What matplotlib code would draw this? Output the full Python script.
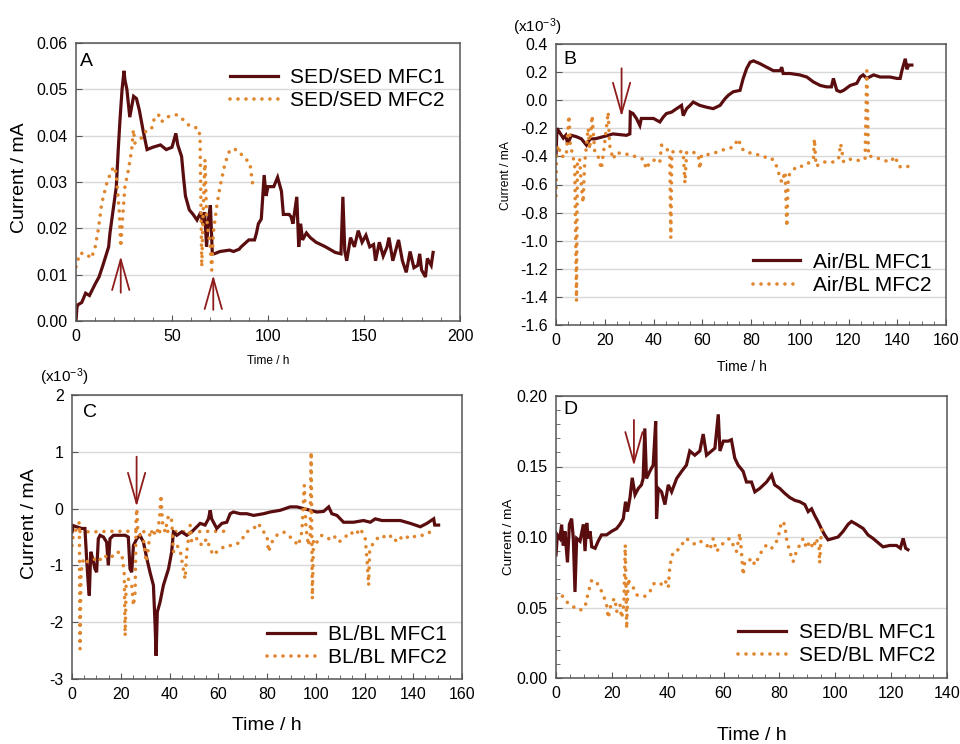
import numpy as np
import matplotlib
matplotlib.use("Agg")
import matplotlib.pyplot as plt

plt.rcParams["font.family"] = ["Liberation Sans", "DejaVu Sans"]
plt.rcParams["mathtext.fontset"] = "custom"
plt.rcParams["mathtext.rm"] = "Liberation Sans"
plt.rcParams["mathtext.it"] = "Liberation Sans:italic"
plt.rcParams["axes.unicode_minus"] = False

# ---- panel A : SED/SED (mA) ----
a1_t = [0, 0.5, 1, 3, 5, 7, 10, 12, 14, 17, 17.7, 21, 22, 23, 24, 25, 25.5, 26.5, 28, 30, 31.5, 33, 35, 37,
        40, 44, 47, 50, 52, 53, 55, 56, 57, 59, 61, 63, 65, 66, 67, 68, 69, 70, 71, 72, 75, 80, 82, 85, 86,
        90, 93, 94, 95, 96.5, 98, 99, 100, 103, 105, 107, 108, 111, 112, 113, 115, 116, 117, 118, 120, 122,
        125, 130, 135, 138, 139, 140, 141, 143, 145, 147, 149, 151, 153, 155, 156, 158, 160, 162, 163, 165,
        168, 170, 172, 174, 176, 178, 179, 180, 182, 183, 185, 186]
a1_i = [0.000, 0.003, 0.0035, 0.004, 0.006, 0.0055, 0.008, 0.0095, 0.012, 0.016, 0.019, 0.029, 0.037, 0.044,
        0.050, 0.054, 0.052, 0.050, 0.044, 0.0485, 0.048, 0.0455, 0.041, 0.037, 0.0375, 0.038, 0.037, 0.0375,
        0.0405, 0.038, 0.0355, 0.031, 0.027, 0.024, 0.023, 0.0218, 0.0235, 0.021, 0.0235, 0.016, 0.022, 0.025,
        0.0145, 0.0145, 0.015, 0.0153, 0.015, 0.0155, 0.016, 0.0175, 0.0175, 0.019, 0.021, 0.022, 0.0315,
        0.027, 0.029, 0.029, 0.031, 0.028, 0.023, 0.023, 0.0225, 0.021, 0.0268, 0.016, 0.021, 0.0175, 0.019,
        0.018, 0.017, 0.016, 0.0148, 0.0145, 0.0268, 0.015, 0.013, 0.018, 0.016, 0.0195, 0.017, 0.0185, 0.016,
        0.0165, 0.013, 0.017, 0.014, 0.016, 0.018, 0.013, 0.0175, 0.013, 0.0105, 0.015, 0.0115, 0.012, 0.0145,
        0.011, 0.0095, 0.0135, 0.012, 0.0148]
a2_t = [0, 2, 5, 8, 10, 11.6, 13.4, 16, 18.6, 20.3, 21.2, 22.6, 23.3, 24.3, 25.5, 27.3, 29, 29.9, 30.7, 32.5,
        35, 36.8, 39.4, 41, 43, 44.6, 47, 52.4, 56, 59.4, 63.7, 64.6, 65.5, 66.3, 67.2, 68, 68.9, 69.8, 70.7,
        71.5, 73.3, 75, 77.6, 80.2, 83.7, 87.2, 90.6, 92.4]
a2_i = [0.0117, 0.0146, 0.0146, 0.0135, 0.016, 0.0197, 0.0254, 0.0297, 0.0326, 0.0333, 0.0305, 0.0233, 0.016,
        0.0225, 0.029, 0.0326, 0.037, 0.0413, 0.0384, 0.039, 0.0398, 0.0413, 0.0416, 0.044, 0.0445, 0.043,
        0.044, 0.0445, 0.0434, 0.042, 0.0416, 0.0398, 0.0117, 0.0247, 0.0348, 0.0225, 0.019, 0.0168, 0.011,
        0.019, 0.0247, 0.029, 0.034, 0.037, 0.037, 0.0355, 0.034, 0.0283]

# ---- panel B : Air/BL (x10^-3 mA) ----
b1_t = [0, 0.4, 1.5, 3, 4, 4.8, 6.3, 8.4, 10.4, 12.5, 14, 16, 19.3, 21.4, 23.4, 28.9, 30.3, 30.5, 31.6, 33,
        34.4, 35, 37, 40, 42.6, 44, 45.3, 47.4, 49.5, 51.5, 52.2, 53.6, 55, 56.3, 59, 61.8, 64.5, 67.3, 69.3,
        70.7, 72.7, 75.5, 76.8, 78.2, 79.6, 81, 83.7, 86.4, 89.2, 92, 92.6, 93.2, 96, 100, 102.9, 105.6, 108.4,
        111, 113, 113.8, 115.2, 116.6, 118, 120.7, 123.4, 124.8, 126, 127.5, 130.3, 133, 137, 139.9, 141.2,
        141.9, 143.3, 144, 144.7, 146]
b1_i = [-0.395, -0.2, -0.23, -0.27, -0.25, -0.31, -0.25, -0.26, -0.275, -0.32, -0.275, -0.275, -0.26, -0.25,
        -0.24, -0.25, -0.24, -0.085, -0.095, -0.13, -0.18, -0.13, -0.13, -0.13, -0.155, -0.12, -0.095, -0.085,
        -0.06, -0.037, -0.11, -0.06, -0.037, -0.013, -0.037, -0.05, -0.06, -0.037, 0.01, 0.035, 0.06, 0.07,
        0.155, 0.225, 0.27, 0.28, 0.26, 0.235, 0.21, 0.21, 0.235, 0.19, 0.19, 0.18, 0.165, 0.13, 0.105, 0.095,
        0.095, 0.155, 0.07, 0.06, 0.07, 0.105, 0.12, 0.165, 0.18, 0.155, 0.18, 0.165, 0.165, 0.155, 0.155,
        0.21, 0.295, 0.22, 0.25, 0.25]
b2_t = [0, 0.2, 0.8, 2.2, 4.2, 5.3, 5.9, 7, 7.7, 8.4, 8.8, 9.7, 10.4, 11.1, 11.8, 13.2, 13.8, 14.8, 15.9, 17.3,
        18.6, 20, 21.4, 22, 23.4, 24.8, 27.5, 30.3, 33, 35.8, 37.1, 38.5, 41.2, 42.6, 43.3, 45.3, 46.7, 47.1,
        47.5, 49.5, 52.2, 52.9, 53.6, 56.3, 58.4, 59, 59.7, 63.2, 65.9, 70, 72.7, 74.8, 76.2, 78.2, 82.3, 85,
        87.8, 89.9, 91.2, 92.6, 94, 94.7, 95.3, 96.7, 98.8, 101.5, 104.2, 105.6, 106, 106.7, 109.7, 113.8,
        115.9, 116.8, 118, 120.7, 123.4, 126.8, 127.5, 128.2, 130.3, 133, 137, 139.2, 140.5, 142.6, 144.7, 146]
b2_i = [-0.68, -0.4, -0.32, -0.4, -0.4, -0.11, -0.32, -0.4, -0.47, -1.43, -0.42, -0.42, -0.61, -0.73, -0.44,
        -0.2, -0.35, -0.11, -0.37, -0.4, -0.49, -0.3, -0.085, -0.32, -0.42, -0.37, -0.385, -0.385, -0.405,
        -0.42, -0.49, -0.44, -0.42, -0.44, -0.32, -0.335, -0.4, -0.98, -0.37, -0.36, -0.37, -0.59, -0.37,
        -0.37, -0.39, -0.49, -0.39, -0.385, -0.37, -0.345, -0.335, -0.275, -0.345, -0.37, -0.385, -0.405,
        -0.405, -0.44, -0.51, -0.585, -0.51, -0.9, -0.54, -0.51, -0.47, -0.47, -0.44, -0.42, -0.275, -0.47,
        -0.44, -0.44, -0.42, -0.31, -0.44, -0.42, -0.43, -0.42, 0.21, -0.4, -0.4, -0.42, -0.44, -0.4, -0.47,
        -0.48, -0.47, -0.455]

# ---- panel C : BL/BL (x10^-3 mA) ----
c1_t = [0, 0.5, 1.9, 4, 5.3, 6, 6.7, 7.1, 7.7, 8.5, 9.4, 10.1, 10.8, 11.5, 12.9, 14.2, 14.9, 15.6, 17, 19.7,
        21.8, 23.1, 23.8, 24.5, 25.2, 26.6, 27.9, 29.3, 30.7, 32, 33.4, 34.1, 34.5, 35, 36.1, 37.5, 39.6, 40.9,
        41.6, 43, 45, 47.1, 49.1, 51.2, 52.6, 54.6, 56, 56.7, 57.3, 59.4, 61.5, 63.5, 64.9, 66.2, 69, 71.7,
        74.5, 78.6, 81.3, 85.4, 89.5, 92.3, 95, 97.7, 100.5, 103.2, 105.3, 106.6, 108.7, 111.4, 115.5, 119.6,
        122.4, 124.4, 127.2, 130.6, 134.7, 138.8, 142.9, 145.6, 148.4, 148.8, 150.4]
c1_i = [-0.41, -0.3, -0.32, -0.35, -0.35, -0.88, -1.35, -1.53, -0.76, -0.88, -1.06, -1.12, -0.53, -0.47, -0.5,
        -0.59, -1.0, -0.53, -0.47, -0.47, -0.47, -0.5, -1.06, -1.12, -0.65, -0.53, -0.47, -0.59, -0.88, -1.12,
        -1.35, -2.06, -2.59, -1.82, -1.65, -1.35, -1.06, -0.76, -0.41, -0.47, -0.41, -0.47, -0.41, -0.32, -0.26,
        -0.29, -0.18, -0.03, -0.18, -0.35, -0.26, -0.24, -0.09, -0.06, -0.09, -0.09, -0.12, -0.09, -0.06, -0.03,
        0.03, 0.03, 0.0, -0.03, -0.06, -0.05, 0.03, -0.09, -0.12, -0.24, -0.24, -0.21, -0.24, -0.18, -0.21,
        -0.21, -0.21, -0.26, -0.32, -0.26, -0.18, -0.29, -0.29]
c2_t = [0, 0.5, 1.9, 3, 3.3, 3.7, 4.7, 6, 8.8, 10.8, 12.9, 15.6, 18.3, 20.4, 21.4, 21.8, 22.2, 23.1, 24.5, 25.2,
        25.9, 26.3, 26.6, 27, 27.9, 29.3, 30.4, 31.3, 32, 33.4, 34.8, 35.9, 36.5, 37.1, 38.2, 39.6, 40.9, 41.6,
        43, 44.3, 45.4, 46.4, 47.1, 48.5, 49.1, 50.5, 51.9, 53.2, 55.3, 56.7, 58, 59.4, 60.8, 63.5, 66.2, 69,
        71.7, 74.5, 76.5, 77.9, 80, 80.6, 82, 84, 86.8, 89.5, 91.6, 92.9, 94.3, 95.3, 96, 97, 97.7, 98.1, 98.6,
        99.1, 100.5, 102.5, 105.3, 107.3, 109.4, 111.4, 114.2, 116.2, 118.3, 120.3, 121, 121.7, 122.1, 123,
        125.1, 127.2, 129.2, 131.3, 133.3, 136, 138.8, 141.5, 144.3, 147, 149]
c2_i = [-0.65, -0.47, -0.35, -0.24, -2.47, -1.12, -0.88, -0.94, -0.88, -0.94, -0.82, -0.88, -0.76, -0.79,
        -1.12, -2.24, -1.35, -1.24, -1.35, -1.71, -1.47, -0.18, 0.0, -0.4, -0.47, -0.53, -0.94, -0.71, -0.41,
        -0.41, -0.47, -0.18, 0.24, -0.24, -0.41, -0.12, -0.21, -0.76, -0.65, -0.71, -1.0, -1.24, -0.76, -0.29,
        -0.59, -0.53, -0.53, -0.65, -0.53, -0.71, -0.82, -0.76, -0.71, -0.65, -0.65, -0.59, -0.41, -0.35,
        -0.26, -0.38, -0.47, -0.76, -0.59, -0.47, -0.41, -0.5, -0.59, -0.65, -0.41, 0.41, -0.35, -0.65, -0.47,
        1.0, -1.59, -0.53, -0.59, -0.47, -0.53, -0.47, -0.59, -0.53, -0.41, -0.47, -0.35, -0.53, -0.88, -1.35,
        -0.76, -0.65, -0.53, -0.47, -0.53, -0.47, -0.59, -0.47, -0.53, -0.47, -0.47, -0.41, -0.41]
c2_base_t = [0, 8, 16, 24, 32, 40, 48, 56, 64]
c2_base_i = [-0.40, -0.41, -0.40, -0.40, -0.41, -0.40, -0.41, -0.40, -0.40]

# ---- panel D : SED/BL (mA) ----
d1_t = [0, 0.5, 1.4, 2, 2.6, 3.2, 4.1, 4.8, 5.6, 6.2, 6.8, 7.4, 8.6, 9.8, 10.4, 11, 11.6, 12.2, 12.8, 14,
        15.1, 16.3, 18.1, 19.9, 21.7, 22.9, 24.1, 24.9, 25.6, 26.5, 27.3, 28.3, 29.5, 30.6, 31.2, 31.8, 32.4,
        33.6, 34.8, 35.7, 36, 36.6, 37.8, 39, 40.2, 41.4, 43.2, 45, 46.7, 47.9, 49.7, 51.5, 52.7, 53.9, 55.7,
        56.9, 58.1, 58.7, 59.9, 61.7, 62.8, 64, 65.2, 67, 68.2, 70, 71.2, 73, 75.4, 77.2, 78.3, 80.1, 81.9,
        83.7, 85.5, 87.3, 89.1, 90.3, 91.5, 92.7, 93.8, 95, 96.2, 97.4, 99.2, 101, 102.8, 104.6, 105.8, 107.6,
        110, 111.7, 113.5, 115.3, 117.1, 119.5, 121.9, 123.3, 124.3, 125.2, 126]
d1_i = [0.0873, 0.1015, 0.099, 0.1087, 0.094, 0.104, 0.082, 0.109, 0.113, 0.099, 0.061, 0.099, 0.097, 0.109,
        0.09, 0.11, 0.099, 0.104, 0.093, 0.092, 0.097, 0.1015, 0.1015, 0.104, 0.106, 0.109, 0.113, 0.125,
        0.118, 0.128, 0.142, 0.130, 0.1345, 0.137, 0.1415, 0.177, 0.1415, 0.1466, 0.151, 0.182, 0.113, 0.1345,
        0.132, 0.123, 0.137, 0.132, 0.1415, 0.1466, 0.151, 0.161, 0.158, 0.161, 0.173, 0.158, 0.161, 0.163,
        0.187, 0.161, 0.168, 0.168, 0.169, 0.156, 0.151, 0.1466, 0.139, 0.139, 0.132, 0.1345, 0.139, 0.144,
        0.137, 0.1345, 0.131, 0.128, 0.126, 0.125, 0.123, 0.118, 0.12, 0.115, 0.111, 0.106, 0.1015, 0.098,
        0.099, 0.1, 0.104, 0.109, 0.111, 0.109, 0.106, 0.1015, 0.099, 0.096, 0.093, 0.094, 0.094, 0.092,
        0.099, 0.092, 0.091]
d2_t = [0, 2, 3.8, 6.2, 8.6, 10.4, 11.6, 12.8, 14.5, 15.7, 16.9, 18.1, 18.7, 19.9, 21.1, 21.7, 22.9, 23.5,
        24.3, 24.8, 25.3, 25.8, 26.5, 27.7, 28.9, 30, 31.8, 33.6, 34.8, 36, 37.8, 39, 40.2, 40.8, 41.4, 42,
        43.8, 45, 46.7, 48.5, 50.3, 52.1, 53.9, 55.1, 56.3, 57.5, 58.7, 60.5, 62.2, 63.4, 64.6, 65.8, 66.4, 67,
        67.6, 68.8, 70, 71.2, 72.4, 73.6, 75.4, 77.2, 79, 80.1, 80.7, 81.9, 82.5, 83.7, 84.9, 86.1, 87.3, 88.5,
        89.7, 90.9, 92.1, 93.2, 94.2, 94.4, 95, 95.6, 96.8]
d2_i = [0.0565, 0.0589, 0.054, 0.0505, 0.048, 0.0505, 0.061, 0.0695, 0.068, 0.064, 0.059, 0.052, 0.0425,
        0.054, 0.0565, 0.047, 0.052, 0.0425, 0.052, 0.0945, 0.035, 0.0705, 0.0665, 0.064, 0.059, 0.058, 0.058,
        0.061, 0.0665, 0.068, 0.0665, 0.0695, 0.064, 0.0802, 0.085, 0.0897, 0.091, 0.0945, 0.099, 0.096,
        0.0945, 0.097, 0.0945, 0.091, 0.099, 0.0897, 0.093, 0.097, 0.099, 0.0945, 0.0897, 0.1027, 0.0897,
        0.073, 0.0825, 0.0825, 0.085, 0.0802, 0.085, 0.0897, 0.0945, 0.092, 0.097, 0.104, 0.111, 0.109, 0.099,
        0.0897, 0.0825, 0.0897, 0.0945, 0.099, 0.092, 0.097, 0.092, 0.099, 0.092, 0.0815, 0.104, 0.1075,
        0.106]

dark = "#5a0d0f"
orange = "#e0862e"
arrow_c = "#8e1c1c"
W, H = 960, 744

fig = plt.figure(figsize=(9.6, 7.44), dpi=100)


def box(l, t, r, b):
    return [l / W, 1 - b / H, (r - l) / W, (b - t) / H]


def ftext(x, y, s, **kw):
    fig.text(x / W, 1 - y / H, s, **kw)


def setup(ax, xlim, xmaj, xmin, ylim, ymaj, yfmt, ymin=None):
    ax.set_xlim(*xlim)
    ax.set_ylim(*ylim)
    ax.set_xticks(xmaj)
    ax.set_xticks(xmin, minor=True)
    ymaj = np.round(ymaj, 6) + 0.0
    ax.set_yticks(ymaj)
    ax.set_yticklabels([yfmt.format(v + 0.0) for v in ymaj])
    if ymin is not None:
        ax.set_yticks(ymin, minor=True)
    ax.grid(axis="y", color="#d8d8d8", lw=1.0)
    ax.set_axisbelow(True)
    ax.tick_params(which="both", direction="in", labelsize=11.5, color="#555555", pad=6)
    ax.tick_params(which="major", length=4)
    ax.tick_params(which="minor", length=3)
    for s in ax.spines.values():
        s.set_color("#555555")
        s.set_linewidth(1.1)


def series(ax, t1, i1, t2, i2, lab1, lab2):
    ax.plot(t1, i1, color=dark, lw=2.3, label=lab1, solid_joinstyle="miter")
    ax.plot(t2, i2, color=orange, lw=2.6, linestyle=(0, (0.01, 2.2)),
            dash_capstyle="round", label=lab2)


def arrow(ax, x, y_tail, y_tip):
    ax.annotate("", xy=(x, y_tip), xytext=(x, y_tail),
                arrowprops=dict(arrowstyle="->,head_length=2.2,head_width=0.62",
                                color=arrow_c, lw=1.3, shrinkA=0, shrinkB=0,
                                mutation_scale=10))


def legend(ax, loc, anchor):
    ax.legend(loc=loc, bbox_to_anchor=anchor, frameon=False, fontsize=15,
              handlelength=2.3, handletextpad=0.6, labelspacing=0.2, borderpad=0, borderaxespad=0)


# A
axA = fig.add_axes(box(76, 43, 460, 321))
setup(axA, (0, 200), np.arange(0, 201, 50), np.arange(0, 201, 10),
      (0, 0.06), np.arange(0, 0.061, 0.01), "{:.2f}")
series(axA, a1_t, a1_i, a2_t, a2_i, "SED/SED MFC1", "SED/SED MFC2")
arrow(axA, 23.3, 0.0061, 0.0140)
arrow(axA, 71.5, 0.0024, 0.0099)
legend(axA, "upper right", (0.961, 0.91))

# B
axB = fig.add_axes(box(556, 44, 946, 325))
setup(axB, (0, 160), np.arange(0, 161, 20), np.arange(0, 161, 5),
      (-1.6, 0.4), np.arange(-1.6, 0.41, 0.2), "{:.1f}")
series(axB, b1_t, b1_i, b2_t, b2_i, "Air/BL MFC1", "Air/BL MFC2")
arrow(axB, 26.9, 0.227, -0.117)
legend(axB, "lower right", (0.963, 0.107))

# C
axC = fig.add_axes(box(72, 395, 462, 679))
setup(axC, (0, 160), np.arange(0, 161, 20), np.arange(0, 161, 5),
      (-3, 2), np.arange(-3, 2.1, 1), "{:.0f}")
axC.plot(c2_base_t, c2_base_i, color=orange, lw=2.6, linestyle=(0, (0.01, 2.2)),
         dash_capstyle="round")
series(axC, c1_t, c1_i, c2_t, c2_i, "BL/BL MFC1", "BL/BL MFC2")
arrow(axC, 26.5, 0.914, 0.033)
legend(axC, "lower right", (0.961, 0.042))

# D
axD = fig.add_axes(box(556, 396, 947, 678))
setup(axD, (0, 140), np.arange(0, 141, 20), np.arange(0, 141, 5),
      (0, 0.2), np.arange(0, 0.201, 0.05), "{:.2f}", ymin=np.arange(0, 0.201, 0.01))
series(axD, d1_t, d1_i, d2_t, d2_i, "SED/BL MFC1", "SED/BL MFC2")
arrow(axD, 27.9, 0.183, 0.1504)
legend(axD, "lower right", (0.969, 0.046))

# panel letters
ftext(80, 61, "A", fontsize=14, va="center")
ftext(563, 60, "B", fontsize=14, va="center")
ftext(83, 413, "C", fontsize=14, va="center")
ftext(563, 410, "D", fontsize=14, va="center")

# axis labels
ftext(20, 178, "Current / mA", fontsize=14, rotation=90, ha="center", va="center")
ftext(506, 176, "Current / mA", fontsize=8.7, rotation=90, ha="center", va="center")
ftext(29, 524, "Current / mA", fontsize=14, rotation=90, ha="center", va="center")
ftext(509, 537, "Current / mA", fontsize=9.7, rotation=90, ha="center", va="center")
ftext(268, 361, "Time / h", fontsize=8.6, ha="center", va="center")
ftext(742, 367, "Time / h", fontsize=10, ha="center", va="center")
ftext(267, 725, "Time / h", fontsize=14, ha="center", va="center")
ftext(752, 735, "Time / h", fontsize=14, ha="center", va="center")

# scale notes
ftext(513, 27, r"(x10$^{-3}$)", fontsize=11, va="center")
ftext(40, 377, r"(x10$^{-3}$)", fontsize=11, va="center")

fig.savefig("out.png", dpi=100)
